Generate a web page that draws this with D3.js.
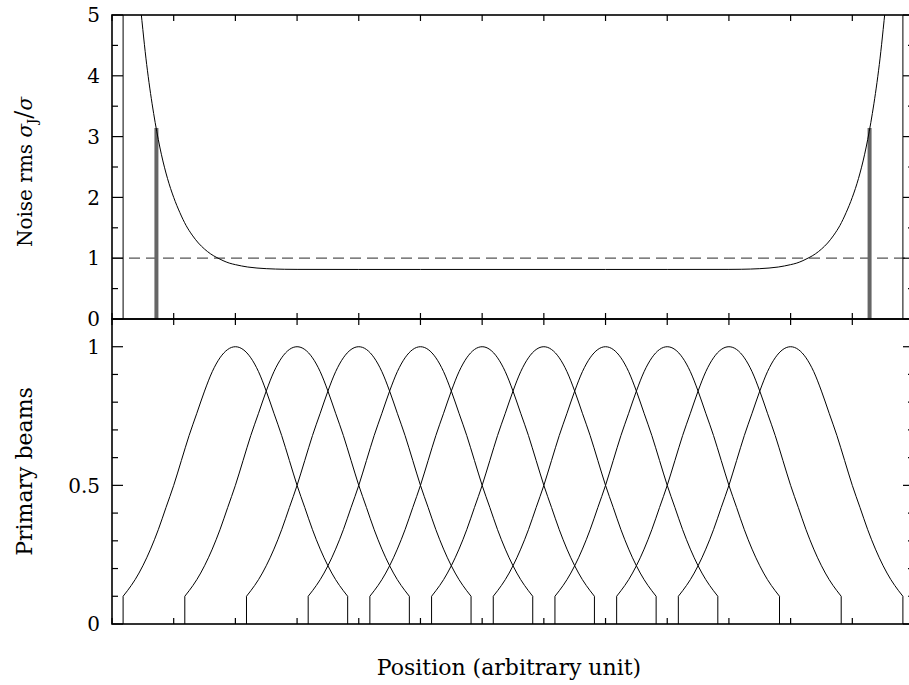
<!DOCTYPE html>
<html>
    <head>
        <title>Noise and primary beams</title>
        <meta charset="UTF-8">
        <script src="https://d3js.org/d3.v7.min.js"></script>
        <style>
            body{margin:0;background:#fff;}
        </style>
    </head>
    <body>
        <script>
            // beam centres (position units)
            var beamCenters = [2,3,4,5,6,7,8,9,10,11];
            // shared beam profile: offset from centre, response
            var beamOffsets = [-1.82,-1.75,-1.625,-1.5,-1.375,-1.25,-1.125,-1,-0.875,-0.75,-0.625,-0.5,-0.375,-0.25,-0.125,0,
                               0.125,0.25,0.375,0.5,0.625,0.75,0.875,1,1.125,1.25,1.375,1.5,1.625,1.75,1.82];
            var beamValues  = [0.10,0.12,0.16,0.21,0.27,0.34,0.42,0.50,0.59,0.68,0.76,0.84,0.91,0.96,0.99,1.00,
                               0.99,0.96,0.91,0.84,0.76,0.68,0.59,0.50,0.42,0.34,0.27,0.21,0.16,0.12,0.10];
            // noise curve sigma_J/sigma
            var noisePos = [0.47,0.5,0.55,0.6,0.65,0.7,0.8,0.9,1.0,1.1,1.2,1.3,1.4,1.5,1.6,1.7,1.8,1.9,2.0,2.2,2.5,2.8,3.0,4,5,6.5,8,9,10,10.2,
                            10.5,10.8,11.0,11.1,11.2,11.3,11.4,11.5,11.6,11.7,11.8,11.9,12.0,12.1,12.2,12.3,12.35,12.4,12.45,12.5,12.53];
            var noiseVal = [5.06,4.76,4.29,3.89,3.54,3.23,2.71,2.31,2.00,1.75,1.54,1.38,1.25,1.15,1.07,1.01,0.96,0.92,0.894,0.855,0.828,0.818,0.816,0.815,0.815,0.815,0.815,0.815,0.816,0.818,
                            0.828,0.855,0.894,0.92,0.96,1.01,1.07,1.15,1.25,1.38,1.54,1.75,2.00,2.31,2.71,3.23,3.54,3.89,4.29,4.76,5.06];
            var noiseEdges = [0.18,12.82];
            var cutPos = [0.72,12.28];
            var cutTop = 3.14;
            var refLevel = 1;
            var xTicks = d3.range(0,14);
            var topTicks = [0,1,2,3,4,5];
            var topMinor = [0.5,1.5,2.5,3.5,4.5];
            var botTicks = [0,0.5,1];
            var botMinor = [0.1,0.2,0.3,0.4,0.6,0.7,0.8,0.9];

            var w=909,h=685;
            var x0=112,x1=914;
            var font="DejaVu Serif";
            var xScale = d3.scaleLinear().domain([0,13]).range([x0,x1]);
            var yTop = d3.scaleLinear().domain([0,5]).range([319,15]);
            var yBot = d3.scaleLinear().domain([0,1.1]).range([624,319]);

            var svg = d3.select("body").append("svg")
                    .attr("width",w).attr("height",h);

            var defs = svg.append("defs");
            defs.append("clipPath").attr("id","clipTop")
                .append("rect").attr("x",x0).attr("y",15).attr("width",x1-x0).attr("height",304);

            // ---- top panel ----
            var gTop = svg.append("g").attr("clip-path","url(#clipTop)");

            gTop.append("line")
                .attr("x1",x0).attr("x2",x1)
                .attr("y1",yTop(refLevel)).attr("y2",yTop(refLevel))
                .attr("stroke","#555").attr("stroke-width",1.2)
                .attr("stroke-dasharray","11,6");

            gTop.selectAll("line.cut")
                .data(cutPos).enter().append("line")
                .attr("class","cut")
                .attr("x1",function(d){return xScale(d);})
                .attr("x2",function(d){return xScale(d);})
                .attr("y1",yTop(0)).attr("y2",yTop(cutTop))
                .attr("stroke","#666").attr("stroke-width",4);

            gTop.selectAll("line.edge")
                .data(noiseEdges).enter().append("line")
                .attr("class","edge")
                .attr("x1",function(d){return xScale(d);})
                .attr("x2",function(d){return xScale(d);})
                .attr("y1",yTop(0)).attr("y2",yTop(5))
                .attr("stroke","#000").attr("stroke-width",1);

            var noiseLine = d3.line()
                    .x(function(d,i){return xScale(noisePos[i]);})
                    .y(function(d){return yTop(d);})
                    .curve(d3.curveMonotoneX);
            gTop.append("path")
                .attr("d",noiseLine(noiseVal))
                .attr("fill","none").attr("stroke","#000").attr("stroke-width",1);

            // ---- bottom panel ----
            beamCenters.forEach(function(c){
                var prof = d3.line()
                        .x(function(d,i){return xScale(c+beamOffsets[i]);})
                        .y(function(d){return yBot(d);})
                        .curve(d3.curveMonotoneX);
                var xa = xScale(c+beamOffsets[0]), xb = xScale(c+beamOffsets[beamOffsets.length-1]);
                var p = "M"+xa+","+yBot(0)+"L"+prof(beamValues).slice(1)+"L"+xb+","+yBot(0);
                svg.append("path")
                    .attr("d",p)
                    .attr("fill","none").attr("stroke","#000").attr("stroke-width",1);
            });

            // ---- frames and ticks ----
            var fr = svg.append("g").attr("stroke","#000").attr("stroke-width",1.6).attr("fill","none");
            fr.append("rect").attr("x",x0).attr("y",15).attr("width",x1-x0).attr("height",304);
            fr.append("rect").attr("x",x0).attr("y",319).attr("width",x1-x0).attr("height",305);

            var tk = svg.append("g").attr("stroke","#000").attr("stroke-width",1.2);
            // x ticks: top frame (down), middle (both), bottom (up)
            xTicks.forEach(function(t){
                var xx = xScale(t);
                tk.append("line").attr("x1",xx).attr("x2",xx).attr("y1",15).attr("y2",21);
                tk.append("line").attr("x1",xx).attr("x2",xx).attr("y1",313).attr("y2",325);
                tk.append("line").attr("x1",xx).attr("x2",xx).attr("y1",624).attr("y2",618);
            });
            function yticks(scale,major,minor){
                major.forEach(function(v){
                    tk.append("line").attr("x1",x0).attr("x2",x0+11).attr("y1",scale(v)).attr("y2",scale(v));
                    tk.append("line").attr("x1",x1).attr("x2",x1-11).attr("y1",scale(v)).attr("y2",scale(v));
                });
                minor.forEach(function(v){
                    tk.append("line").attr("x1",x0).attr("x2",x0+6).attr("y1",scale(v)).attr("y2",scale(v));
                    tk.append("line").attr("x1",x1).attr("x2",x1-6).attr("y1",scale(v)).attr("y2",scale(v));
                });
            }
            yticks(yTop,topTicks,topMinor);
            yticks(yBot,botTicks,botMinor);

            // tick labels
            svg.selectAll("text.tt").data(topTicks).enter().append("text")
                .attr("class","tt")
                .attr("x",100).attr("y",function(d){return yTop(d);})
                .attr("dy","0.36em").attr("text-anchor","end")
                .attr("font-family",font).attr("font-size",20)
                .text(function(d){return d;});
            svg.selectAll("text.bt").data(botTicks).enter().append("text")
                .attr("class","bt")
                .attr("x",100).attr("y",function(d){return yBot(d);})
                .attr("dy","0.36em").attr("text-anchor","end")
                .attr("font-family",font).attr("font-size",20)
                .text(function(d){return d;});

            // axis titles
            var t1 = svg.append("text")
                .attr("transform","translate(32,"+((15+319)/2+5)+") rotate(-90)")
                .attr("text-anchor","middle").attr("font-family",font).attr("font-size",20);
            t1.append("tspan").text("Noise rms ");
            t1.append("tspan").attr("font-style","italic").text("σ");
            t1.append("tspan").attr("font-size",13).attr("dy",5).text("J");
            t1.append("tspan").attr("dy",-5).attr("font-size",24).text("/");
            t1.append("tspan").attr("font-style","italic").text("σ");

            svg.append("text")
                .attr("transform","translate(32,"+((319+624)/2)+") rotate(-90)")
                .attr("text-anchor","middle").attr("font-family",font).attr("font-size",22)
                .text("Primary beams");

            svg.append("text")
                .attr("x",509).attr("y",675)
                .attr("text-anchor","middle").attr("font-family",font).attr("font-size",22)
                .text("Position (arbitrary unit)");
        </script>
    </body>
</html>
